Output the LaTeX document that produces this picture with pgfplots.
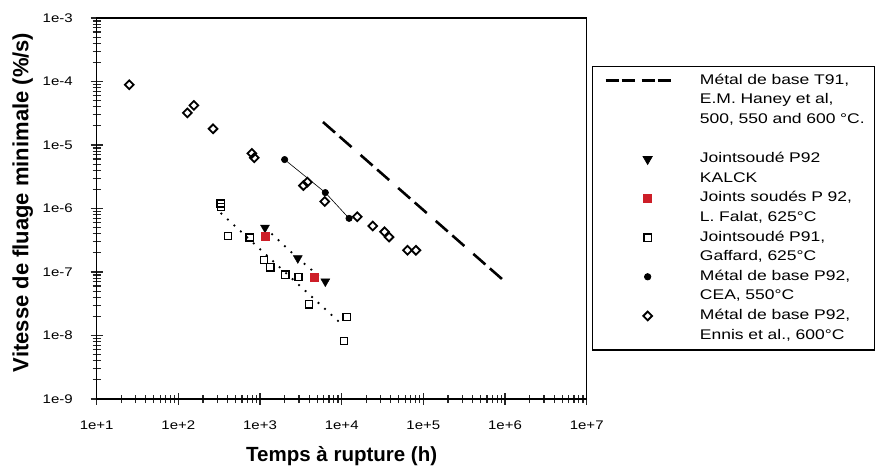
\documentclass[border=0pt]{standalone}
\usepackage{fontspec}
\setmainfont{Liberation Sans}
\newfontfamily\tickfont{Liberation Sans}[FakeStretch=1.2]
\newfontfamily\legfont{Liberation Sans}[FakeStretch=1.25]
\usepackage{pgfplots}
\pgfplotsset{compat=1.18}
\definecolor{redsq}{RGB}{205,30,40}

\pgfplotstableread{
x y
25 8.9e-5
129 3.2e-5
155 4.2e-5
266 1.8e-5
794 7.4e-6
850 6.3e-6
3400 2.3e-6
3800 2.6e-6
6200 1.29e-6
15500 7.4e-7
24000 5.3e-7
33500 4.3e-7
38000 3.55e-7
64000 2.2e-7
81000 2.2e-7
}\ennis

\pgfplotstableread{
x y
2000 5.9e-6
6300 1.78e-6
12300 7.0e-7
}\cea

\pgfplotstableread{
x y
1150 5.0e-7
2900 1.65e-7
6300 7.1e-8
}\kalck

\pgfplotstableread{
x y
1170 3.6e-7
4650 8.3e-8
}\falat

\pgfplotstableread{
x y
330 1.2e-6
335 1.05e-6
407 3.7e-7
745 3.5e-7
1125 1.55e-7
1340 1.18e-7
2040 9.1e-8
2960 8.3e-8
3980 3.1e-8
11500 1.95e-8
10700 8.2e-9
}\gaffard

\pgfplotstableread{
x y
5900 2.3e-5
980000 7.2e-8
}\haney

\pgfplotstableread{
x y
330 8.5e-7
10000 1.5e-8
}\gaffardfit

\begin{document}
\begin{tikzpicture}
\useasboundingbox (0,0) rectangle (875pt,471pt);
\begin{axis}[
  at={(96.7pt,72pt)}, anchor=south west,
  scale only axis, width=490pt, height=381pt,
  xmode=log, ymode=log,
  xmin=10, xmax=1e7, ymin=1e-9, ymax=1e-3,
  xtick={1e1,1e2,1e3,1e4,1e5,1e6,1e7},
  xticklabels={1e+1,1e+2,1e+3,1e+4,1e+5,1e+6,1e+7},
  ytick={1e-9,1e-8,1e-7,1e-6,1e-5,1e-4,1e-3},
  yticklabels={1e-9,1e-8,1e-7,1e-6,1e-5,1e-4,1e-3},
  minor xtick={20,30,40,50,60,70,80,90,200,300,400,500,600,700,800,900,2000,3000,4000,5000,6000,7000,8000,9000,2e4,3e4,4e4,5e4,6e4,7e4,8e4,9e4,2e5,3e5,4e5,5e5,6e5,7e5,8e5,9e5,2e6,3e6,4e6,5e6,6e6,7e6,8e6,9e6},
  minor ytick={2e-9,3e-9,4e-9,5e-9,6e-9,7e-9,8e-9,9e-9,2e-8,3e-8,4e-8,5e-8,6e-8,7e-8,8e-8,9e-8,2e-7,3e-7,4e-7,5e-7,6e-7,7e-7,8e-7,9e-7,2e-6,3e-6,4e-6,5e-6,6e-6,7e-6,8e-6,9e-6,2e-5,3e-5,4e-5,5e-5,6e-5,7e-5,8e-5,9e-5,2e-4,3e-4,4e-4,5e-4,6e-4,7e-4,8e-4,9e-4},
  xtick pos=left, ytick pos=left,
  tick align=center,
  major tick length=12pt, minor tick length=8pt,
  tick style={black!85, line width=1.2pt},
  axis line style={line width=1.2pt},
  ticklabel style={font=\tickfont\fontsize{12.5}{14}\selectfont},
  xticklabel shift=12pt,
  yticklabel shift=14.5pt,
  xlabel={Temps à rupture (h)},
  ylabel={Vitesse de fluage minimale (\%/s)},
  xlabel style={font=\fontsize{20.5}{24}\selectfont\bfseries, at={(axis description cs:0.5,-0.15)}, anchor=center},
  ylabel style={font=\fontsize{22}{24}\selectfont\bfseries, at={(axis description cs:-0.151,0.516)}, anchor=center},
  legend cell align=left,
  legend style={at={(rel axis cs:1.0108,0.875)}, anchor=north west,
    draw=black, line width=1.3pt, inner sep=8pt, row sep=6.6pt, column sep=26pt,
    font=\legfont\fontsize{14}{16}\selectfont,
    nodes={inner sep=0pt, text height=10pt, text depth=3pt, text width=167pt}},
  legend image code/.code={\path[draw=none,fill=none] (5pt,0pt) -- (72pt,0pt); \draw[#1] plot coordinates {(47pt,0pt)};},
]
% data
\addplot[forget plot, black, line width=2.6pt, dash pattern=on 16pt off 6pt on 16pt off 12pt] table {\haney};
\addplot[forget plot, black, line width=1.8pt, dash pattern=on 1.8pt off 7pt] table {\gaffardfit};
\addplot[forget plot, black, line width=1.8pt, dash pattern=on 1.8pt off 7pt] table {\kalck};
\addplot[forget plot, black, line width=0.6pt, mark=*, mark size=3.2pt, mark options={solid, fill=black}] table {\cea};
\addplot[forget plot, only marks, black, line width=1.8pt, mark=square, mark size=3.1pt, mark options={rotate=45}] table {\ennis};
\addplot[forget plot, only marks, black, line width=1.3pt, mark=square, mark size=3.6pt] table {\gaffard};
\addplot[forget plot, only marks, black, mark=triangle*, mark size=5.2pt, mark options={rotate=180, fill=black}] table {\kalck};
\addplot[forget plot, only marks, redsq, mark=square*, mark size=4pt, mark options={fill=redsq}] table {\falat};
% legend
\addlegendimage{legend image code/.code={\draw[black, line width=2.6pt, dash pattern=on 13pt off 3pt on 13pt off 7pt] (5pt,0pt) -- (72pt,0pt);}}
\addlegendentry{Métal de base T91,}
\addlegendimage{empty legend}\addlegendentry{E.M. Haney et al,}
\addlegendimage{empty legend}\addlegendentry{500, 550 and 600 °C.}
\addlegendimage{empty legend}\addlegendentry{}
\addlegendimage{black, line width=0.8pt, mark=triangle*, mark size=5.2pt, mark options={rotate=180, fill=black}}
\addlegendentry{Jointsoudé P92}
\addlegendimage{empty legend}\addlegendentry{KALCK}
\addlegendimage{redsq, mark=square*, mark size=4pt, mark options={fill=redsq}}
\addlegendentry{Joints soudés P 92,}
\addlegendimage{empty legend}\addlegendentry{L. Falat, 625°C}
\addlegendimage{black, line width=1.3pt, mark=square, mark size=3.6pt}
\addlegendentry{Jointsoudé P91,}
\addlegendimage{empty legend}\addlegendentry{Gaffard, 625°C}
\addlegendimage{black, line width=0.8pt, mark=*, mark size=3.2pt, mark options={fill=black}}
\addlegendentry{Métal de base P92,}
\addlegendimage{empty legend}\addlegendentry{CEA, 550°C}
\addlegendimage{black, line width=1.8pt, mark=square, mark size=3.1pt, mark options={rotate=45}}
\addlegendentry{Métal de base P92,}
\addlegendimage{empty legend}\addlegendentry{Ennis et al., 600°C}
\end{axis}
\end{tikzpicture}
\end{document}
